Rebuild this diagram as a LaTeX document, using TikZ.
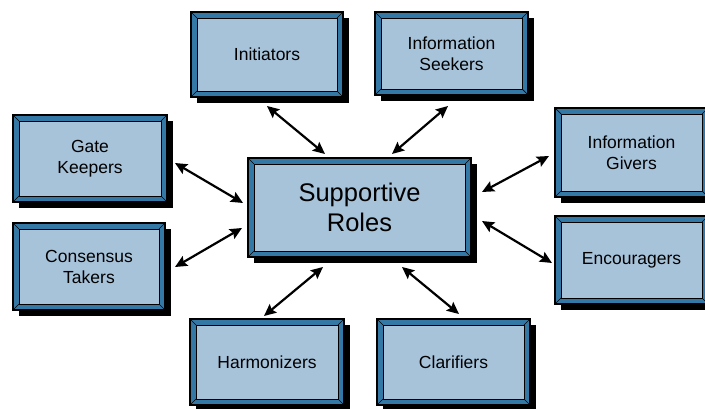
\documentclass[tikz,border=0pt]{standalone}
\usepackage{fontspec}
\setmainfont{Liberation Sans}
\usetikzlibrary{arrows.meta,shadows}
\definecolor{frameblue}{HTML}{3479A6}
\definecolor{innerblue}{HTML}{A7C3DA}
\begin{document}
\begin{tikzpicture}[x=1pt,y=-1pt,
  rolebox/.style={draw=black, line width=1.3pt, fill=frameblue,
    align=center, inner sep=0pt,
    drop shadow={shadow xshift=6pt, shadow yshift=-6pt, fill=black, opacity=1},
    path picture={
      \draw[line width=0.9pt, fill=innerblue]
        ([shift={(6pt,6pt)}]path picture bounding box.south west) rectangle
        ([shift={(-6pt,-6pt)}]path picture bounding box.north east);
      \draw[line width=0.7pt]
        (path picture bounding box.south west) -- ([shift={(6pt,6pt)}]path picture bounding box.south west)
        (path picture bounding box.north east) -- ([shift={(-6pt,-6pt)}]path picture bounding box.north east)
        (path picture bounding box.north west) -- ([shift={(6pt,-6pt)}]path picture bounding box.north west)
        (path picture bounding box.south east) -- ([shift={(-6pt,6pt)}]path picture bounding box.south east);
    }},
  small/.style={rolebox, font=\fontsize{17.5}{21}\selectfont},
  big/.style={rolebox, font=\fontsize{25.5}{30}\selectfont},
  link/.style={line width=2.2pt, {Stealth[length=12pt,width=11pt,inset=2pt]}-{Stealth[length=12pt,width=11pt,inset=2pt]}}
]
\useasboundingbox (0,0) rectangle (705,409);

\node[big, minimum width=223pt, minimum height=99pt] (c) at (359.5,207.5) {Supportive\\Roles};

\node[small, minimum width=152pt, minimum height=85pt] (ini) at (267,54.5) {Initiators};
\node[small, minimum width=153pt, minimum height=83pt] (isk) at (451.5,53.5) {Information\\Seekers};
\node[small, minimum width=154pt, minimum height=87pt] (gk) at (90,158.5) {Gate\\Keepers};
\node[small, minimum width=152pt, minimum height=87pt] (ct) at (89,266.5) {Consensus\\Takers};
\node[small, minimum width=153pt, minimum height=89pt] (ig) at (631.5,152.5) {Information\\Givers};
\node[small, minimum width=153pt, minimum height=88pt] (enc) at (631.5,260) {Encouragers};
\node[small, minimum width=154pt, minimum height=86pt] (har) at (267,362) {Harmonizers};
\node[small, minimum width=153pt, minimum height=86pt] (cla) at (453.5,362) {Clarifiers};

\coordinate (a1) at (267,106); \coordinate (b1) at (325,154);
\coordinate (a2) at (448,106); \coordinate (b2) at (392,154);
\coordinate (a3) at (175,163); \coordinate (b3) at (243,203);
\coordinate (a4) at (175,267); \coordinate (b4) at (242,228);
\coordinate (a5) at (549,156); \coordinate (b5) at (482,192);
\coordinate (a6) at (552,263); \coordinate (b6) at (482,221);
\coordinate (a7) at (264,316); \coordinate (b7) at (323,267);
\coordinate (a8) at (459,314); \coordinate (b8) at (402,267);

\foreach \i in {1,...,8} \draw[link] (a\i) -- (b\i);
\end{tikzpicture}
\end{document}
